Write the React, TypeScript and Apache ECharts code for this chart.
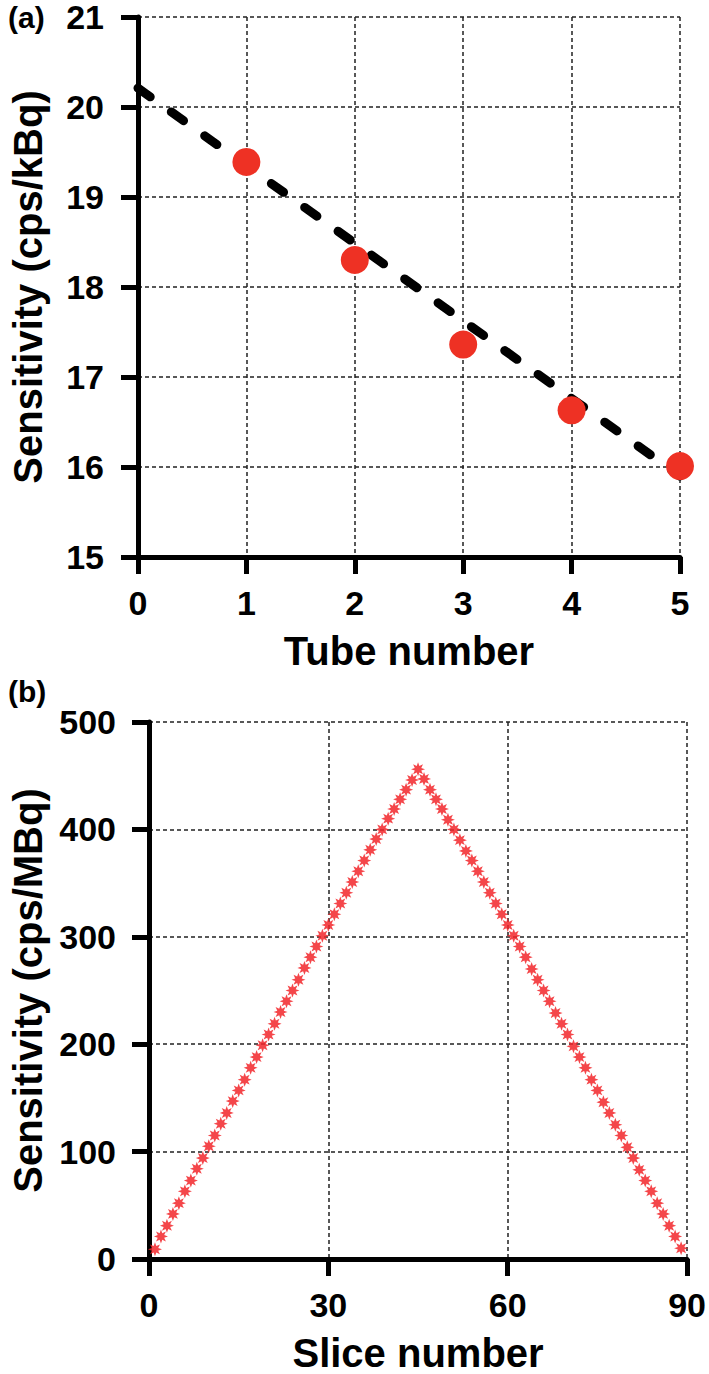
import React, { useEffect, useRef } from "react";
import * as echarts from "echarts";

// Panel (a)
const tubeNumbers = [1, 2, 3, 4, 5];
const tubeSensitivity = [19.39, 18.3, 17.36, 16.63, 16.01];
const fitX = [0, 5];
const fitY = [20.21, 15.9];
const tubeTicks = [0, 1, 2, 3, 4, 5];

// Panel (b)
const sliceNumbers = [
  1, 2, 3, 4, 5, 6, 7, 8, 9, 10, 11, 12, 13, 14, 15, 16, 17, 18, 19, 20, 21, 22, 23, 24, 25, 26, 27, 28, 29, 30,
  31, 32, 33, 34, 35, 36, 37, 38, 39, 40, 41, 42, 43, 44, 45, 46, 47, 48, 49, 50, 51, 52, 53, 54, 55, 56, 57, 58, 59, 60,
  61, 62, 63, 64, 65, 66, 67, 68, 69, 70, 71, 72, 73, 74, 75, 76, 77, 78, 79, 80, 81, 82, 83, 84, 85, 86, 87, 88, 89,
];
const sliceSensitivity = [
  9, 21, 31, 42, 52, 63, 73, 84, 94, 105, 115, 126, 136, 147, 157, 167, 178, 188, 199, 209, 219, 230, 240, 250, 260,
  271, 281, 291, 301, 311, 321, 331, 341, 351, 361, 371, 381, 391, 400, 410, 419, 428, 437, 446, 456,
  447, 437, 428, 419, 409, 400, 390, 380, 371, 361, 351, 341, 331, 321, 311, 301, 291, 281, 270, 260, 250, 240, 229,
  219, 209, 198, 188, 178, 167, 157, 146, 136, 125, 115, 104, 94, 83, 73, 63, 52, 42, 31, 21, 10,
];

const FONT = "'Liberation Sans', Arial, Helvetica, sans-serif";

function starPath(points: number, outer: number, inner: number): string {
  let d = "";
  for (let i = 0; i < points * 2; i++) {
    const r = i % 2 === 0 ? outer : inner;
    const a = (Math.PI * i) / points - Math.PI / 2;
    const x = (10 + r * Math.cos(a)).toFixed(2);
    const y = (10 + r * Math.sin(a)).toFixed(2);
    d += (i === 0 ? "M" : "L") + x + " " + y + " ";
  }
  return "path://" + d + "Z";
}

export default function App() {
  const ref = useRef<HTMLDivElement>(null);

  useEffect(() => {
    if (!ref.current) return;
    const chart = echarts.init(ref.current, undefined, { renderer: "svg" });

    const axisLine = { show: true, lineStyle: { color: "#000", width: 5 } };
    const axisTick = { show: true, inside: false, length: 17, lineStyle: { color: "#000", width: 5 } };
    const splitLine = { show: true, lineStyle: { color: "#222", width: 1.5, type: [4, 3] } };
    const tickLabel = (margin: number) => ({
      color: "#000",
      fontSize: 34,
      fontWeight: "bold",
      fontFamily: FONT,
      lineHeight: 26,
      margin,
    });
    const nameStyle = { color: "#000", fontSize: 40, fontWeight: "bold", fontFamily: FONT, lineHeight: 40 };

    const option: any = {
      animation: false,
      backgroundColor: "#fff",
      grid: [
        { left: 137, right: 29, top: 14, height: 543, containLabel: false },
        { left: 148, right: 20, top: 722, height: 545, containLabel: false },
      ],
      xAxis: [
        {
          gridIndex: 0,
          type: "value",
          min: tubeTicks[0],
          max: tubeTicks[tubeTicks.length - 1],
          interval: 1,
          axisLine,
          axisTick,
          splitLine,
          axisLabel: tickLabel(33),
          name: "Tube number",
          nameLocation: "middle",
          nameGap: 74,
          nameTextStyle: nameStyle,
        },
        {
          gridIndex: 1,
          type: "value",
          min: 0,
          max: 90,
          interval: 30,
          axisLine,
          axisTick,
          splitLine,
          axisLabel: tickLabel(33),
          name: "Slice number",
          nameLocation: "middle",
          nameGap: 74,
          nameTextStyle: nameStyle,
        },
      ],
      yAxis: [
        {
          gridIndex: 0,
          type: "value",
          min: 15,
          max: 21,
          interval: 1,
          axisLine,
          axisTick,
          splitLine,
          axisLabel: tickLabel(34),
          name: "Sensitivity (cps/kBq)",
          nameLocation: "middle",
          nameGap: 90,
          nameTextStyle: nameStyle,
        },
        {
          gridIndex: 1,
          type: "value",
          min: 0,
          max: 500,
          interval: 100,
          axisLine,
          axisTick,
          splitLine,
          axisLabel: tickLabel(33),
          name: "Sensitivity (cps/MBq)",
          nameLocation: "middle",
          nameGap: 101,
          nameTextStyle: nameStyle,
        },
      ],
      series: [
        {
          type: "line",
          xAxisIndex: 0,
          yAxisIndex: 0,
          data: fitX.map((x, i) => [x, fitY[i]]),
          showSymbol: false,
          symbol: "none",
          lineStyle: { color: "#000", width: 9, type: [15, 26], cap: "round" },
          z: 3,
        },
        {
          type: "scatter",
          xAxisIndex: 0,
          yAxisIndex: 0,
          data: tubeNumbers.map((x, i) => [x, tubeSensitivity[i]]),
          symbol: "circle",
          symbolSize: 28,
          itemStyle: { color: "#ee3124", opacity: 1 },
          z: 4,
        },
        {
          type: "scatter",
          xAxisIndex: 1,
          yAxisIndex: 1,
          data: sliceNumbers.map((x, i) => [x, sliceSensitivity[i]]),
          symbol: starPath(8, 10, 5),
          symbolSize: 14,
          itemStyle: { color: "#f2262a", opacity: 0.85 },
          z: 4,
        },
      ],
      graphic: [
        {
          type: "text",
          left: 8,
          top: 2,
          style: { text: "(a)", fill: "#000", font: `bold 30px ${FONT}` },
        },
        {
          type: "text",
          left: 8,
          top: 676,
          style: { text: "(b)", fill: "#000", font: `bold 30px ${FONT}` },
        },
      ],
    };

    chart.setOption(option);
    return () => chart.dispose();
  }, []);

  return (
    <div
      ref={ref}
      style={{ position: "absolute", left: 0, top: 0, width: 709, height: 1374, background: "#fff" }}
    />
  );
}
